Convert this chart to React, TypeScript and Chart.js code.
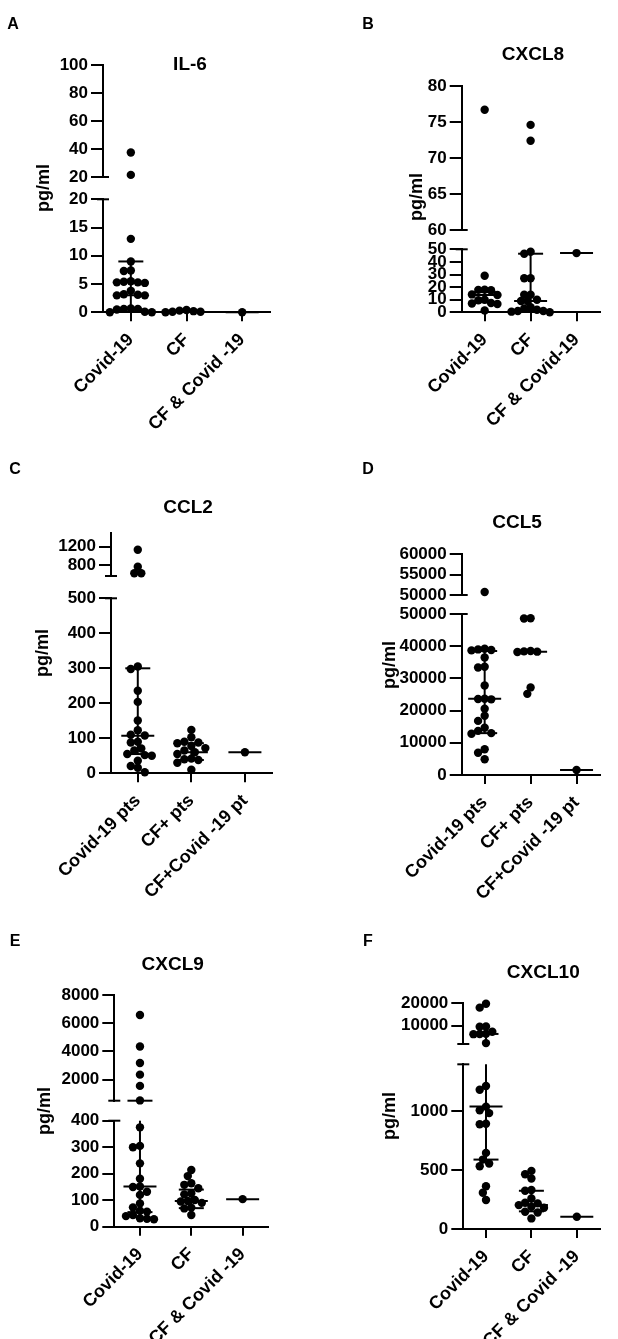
import { useEffect, useRef } from 'react';
import { Chart, registerables } from 'chart.js';

Chart.register(...registerables);

const FONT = '"Liberation Sans", Arial, Helvetica, sans-serif';
Chart.defaults.font.family = FONT;
Chart.defaults.color = '#000';

// ---- A: IL-6 ----
const il6Labels = ['Covid-19', 'CF', 'CF & Covid -19'];
const il6Covid = [37.5, 21.5, 13, 9, 7.4, 7.3, 5.5, 5.4, 5.3, 5.3, 5.2, 3.8, 3.2, 3.1, 3.0, 3.0, 0.7, 0.6, 0.6, 0.5, 0.1, 0, 0];
const il6CF = [0.4, 0.3, 0.2, 0.1, 0.1, 0];
const il6Both = [0];
const il6Median = [3, 0.2, 0];
const il6Q1 = [0.5, null, null];
const il6Q3 = [9, null, null];
const il6HighRange = [20, 100];
const il6HighTicks = [20, 40, 60, 80, 100];
const il6LowRange = [0, 20];
const il6LowTicks = [0, 5, 10, 15, 20];

// ---- B: CXCL8 ----
const cxcl8Labels = ['Covid-19', 'CF', 'CF & Covid-19'];
const cxcl8Covid = [76.7, 29, 18, 17.8, 17.5, 14.2, 13.8, 10, 9.6, 7.4, 7, 6.6, 1.5];
const cxcl8CF = [74.6, 72.4, 48, 46.5, 27, 27, 14, 14, 10, 9, 9, 4, 3, 2, 1, 1, 0.5, 0];
const cxcl8Both = [47];
const cxcl8Median = [13.8, 9, 47];
const cxcl8Q1 = [8, 1, null];
const cxcl8Q3 = [16, 46.5, null];
const cxcl8HighRange = [60, 80];
const cxcl8HighTicks = [60, 65, 70, 75, 80];
const cxcl8LowRange = [0, 50];
const cxcl8LowTicks = [0, 10, 20, 30, 40, 50];

// ---- C: CCL2 ----
const ccl2Labels = ['Covid-19 pts', 'CF+ pts', 'CF+Covid -19 pt'];
const ccl2Covid = [1130, 760, 620, 620, 305, 298, 236, 204, 151, 123, 110, 108, 90, 88, 71, 65, 55, 52, 50, 36, 21, 16, 3];
const ccl2CF = [124, 103, 90, 88, 86, 78, 72, 65, 60, 55, 42, 40, 38, 30, 10];
const ccl2Both = [60];
const ccl2Median = [107, 60, 60];
const ccl2Q1 = [55, 38, null];
const ccl2Q3 = [300, 86, null];
const ccl2HighRange = [560, 1500];
const ccl2HighTicks = [800, 1200];
const ccl2LowRange = [0, 500];
const ccl2LowTicks = [0, 100, 200, 300, 400, 500];

// ---- D: CCL5 ----
const ccl5Labels = ['Covid-19 pts', 'CF+ pts', 'CF+Covid -19 pt'];
const ccl5Covid = [50740, 39200, 39000, 38800, 38700, 36500, 33600, 33400, 27800, 23700, 23600, 23500, 20600, 18400, 16800, 14700, 13700, 13000, 12800, 8000, 6900, 4900];
const ccl5CF = [48700, 48600, 38500, 38400, 38300, 38200, 27200, 25200];
const ccl5Both = [1550];
const ccl5Median = [23700, 38300, 1550];
const ccl5Q1 = [13000, null, null];
const ccl5Q3 = [38500, null, null];
const ccl5HighRange = [50000, 60000];
const ccl5HighTicks = [50000, 55000, 60000];
const ccl5LowRange = [0, 50000];
const ccl5LowTicks = [0, 10000, 20000, 30000, 40000, 50000];

// ---- E: CXCL9 ----
const cxcl9Labels = ['Covid-19', 'CF', 'CF & Covid -19'];
const cxcl9Covid = [6580, 4350, 3170, 2350, 1550, 520, 375, 305, 300, 239, 181, 152, 150, 132, 120, 88, 73, 60, 57, 44, 40, 32, 30, 28];
const cxcl9CF = [214, 191, 164, 158, 145, 126, 122, 101, 97, 95, 90, 72, 69, 44];
const cxcl9Both = [104];
const cxcl9Median = [152, 97, 104];
const cxcl9Q1 = [55, 70, null];
const cxcl9Q3 = [500, 140, null];
const cxcl9HighRange = [500, 8000];
const cxcl9HighTicks = [2000, 4000, 6000, 8000];
const cxcl9LowRange = [0, 400];
const cxcl9LowTicks = [0, 100, 200, 300, 400];

// ---- F: CXCL10 ----
const cxcl10Labels = ['Covid-19', 'CF', 'CF & Covid -19'];
const cxcl10Covid = [19800, 18060, 9600, 9500, 7300, 6400, 6300, 6200, 2200, 1215, 1184, 1040, 1010, 985, 895, 890, 647, 590, 557, 534, 364, 308, 246];
const cxcl10CF = [494, 466, 429, 332, 325, 260, 223, 218, 203, 189, 180, 147, 140, 90];
const cxcl10Both = [104];
const cxcl10Median = [1042, 203, 104];
const cxcl10Q1 = [590, 150, null];
const cxcl10Q3 = [6300, 325, null];
const cxcl10HighRange = [1800, 20000];
const cxcl10HighTicks = [10000, 20000];
const cxcl10LowRange = [0, 1400];
const cxcl10LowTicks = [0, 500, 1000];

// layout of each panel on the page (px)
interface Geo {
  box: number[];
  axisX: number;
  axisRight: number;
  top: number;
  highBottom: number;
  lowTop: number;
  axisY: number;
  letter: number[];
  title: number[];
  yTitle: number[];
}

const GEO: Record<string, Geo> = {
  A: { box: [0, 0, 309, 460], axisX: 103, axisRight: 270, top: 65, highBottom: 177, lowTop: 199.3, axisY: 312.3, letter: [13, 25], title: [190, 65], yTitle: [44, 188] },
  B: { box: [309, 0, 309, 460], axisX: 461.7, axisRight: 613, top: 86, highBottom: 230, lowTop: 249.3, axisY: 312.3, letter: [368, 25], title: [533, 55], yTitle: [416.7, 197] },
  C: { box: [0, 430, 309, 480], axisX: 111, axisRight: 271.7, top: 532.7, highBottom: 576, lowTop: 598.3, axisY: 773.3, letter: [15, 470], title: [188, 508], yTitle: [43.3, 653] },
  D: { box: [309, 430, 309, 480], axisX: 461.7, axisRight: 608, top: 554.3, highBottom: 595, lowTop: 614, axisY: 775, letter: [368, 470], title: [517, 522.7], yTitle: [390, 665] },
  E: { box: [0, 880, 309, 459], axisX: 114.3, axisRight: 268.3, top: 995, highBottom: 1100.7, lowTop: 1120.7, axisY: 1226.7, letter: [15, 941.7], title: [172.7, 965], yTitle: [45, 1111] },
  F: { box: [309, 880, 309, 459], axisX: 463.3, axisRight: 615, top: 1003.3, highBottom: 1044, lowTop: 1064.3, axisY: 1229, letter: [368, 941.7], title: [543.3, 972.7], yTitle: [390, 1116] },
};

interface PanelSpec {
  letter: string;
  title: string;
  labels: string[];
  groups: number[][];
  median: number[];
  q1: (number | null)[];
  q3: (number | null)[];
  highRange: number[];
  highTicks: number[];
  lowRange: number[];
  lowTicks: number[];
  geo: Geo;
}

const PANELS: PanelSpec[] = [
  { letter: 'A', title: 'IL-6', labels: il6Labels, groups: [il6Covid, il6CF, il6Both], median: il6Median, q1: il6Q1, q3: il6Q3, highRange: il6HighRange, highTicks: il6HighTicks, lowRange: il6LowRange, lowTicks: il6LowTicks, geo: GEO.A },
  { letter: 'B', title: 'CXCL8', labels: cxcl8Labels, groups: [cxcl8Covid, cxcl8CF, cxcl8Both], median: cxcl8Median, q1: cxcl8Q1, q3: cxcl8Q3, highRange: cxcl8HighRange, highTicks: cxcl8HighTicks, lowRange: cxcl8LowRange, lowTicks: cxcl8LowTicks, geo: GEO.B },
  { letter: 'C', title: 'CCL2', labels: ccl2Labels, groups: [ccl2Covid, ccl2CF, ccl2Both], median: ccl2Median, q1: ccl2Q1, q3: ccl2Q3, highRange: ccl2HighRange, highTicks: ccl2HighTicks, lowRange: ccl2LowRange, lowTicks: ccl2LowTicks, geo: GEO.C },
  { letter: 'D', title: 'CCL5', labels: ccl5Labels, groups: [ccl5Covid, ccl5CF, ccl5Both], median: ccl5Median, q1: ccl5Q1, q3: ccl5Q3, highRange: ccl5HighRange, highTicks: ccl5HighTicks, lowRange: ccl5LowRange, lowTicks: ccl5LowTicks, geo: GEO.D },
  { letter: 'E', title: 'CXCL9', labels: cxcl9Labels, groups: [cxcl9Covid, cxcl9CF, cxcl9Both], median: cxcl9Median, q1: cxcl9Q1, q3: cxcl9Q3, highRange: cxcl9HighRange, highTicks: cxcl9HighTicks, lowRange: cxcl9LowRange, lowTicks: cxcl9LowTicks, geo: GEO.E },
  { letter: 'F', title: 'CXCL10', labels: cxcl10Labels, groups: [cxcl10Covid, cxcl10CF, cxcl10Both], median: cxcl10Median, q1: cxcl10Q1, q3: cxcl10Q3, highRange: cxcl10HighRange, highTicks: cxcl10HighTicks, lowRange: cxcl10LowRange, lowTicks: cxcl10LowTicks, geo: GEO.F },
];

const YW = 72; // y axis box width
const DOT_R = 4.2;
const GAP = 7; // centre distance of neighbouring dots
const MEDIAN_HALF = 16.5;
const CAP_HALF = 12.5;

// Prism-like scatter spread: x offsets (in category units) so dots do not pile up
function swarm(values: number[], pxPerUnit: number, bandPx: number): number[] {
  const order = values.map((_, i) => i).sort((a, b) => values[b] - values[a]);
  const placed: { x: number; y: number }[] = [];
  const out = values.map(() => 0);
  for (const i of order) {
    const y = values[i] * pxPerUnit;
    let best = 0;
    for (let k = 0; k < 60; k++) {
      const cand = k === 0 ? 0 : (k % 2 ? -1 : 1) * Math.ceil(k / 2) * (GAP / 2);
      if (placed.every(p => Math.hypot(p.x - cand, p.y - y) >= GAP - 0.01)) {
        best = cand;
        break;
      }
    }
    placed.push({ x: best, y });
    out[i] = best / bandPx;
  }
  return out;
}

function buildDatasets(spec: PanelSpec) {
  const g = spec.geo;
  const bandPx = (g.axisRight - g.axisX) / spec.labels.length;
  const highPx = (g.highBottom - g.top) / (spec.highRange[1] - spec.highRange[0]);
  const lowPx = (g.axisY - g.lowTop) / (spec.lowRange[1] - spec.lowRange[0]);
  const isHigh = (v: number) => v > spec.lowRange[1];

  const highDots: { x: number; y: number }[] = [];
  const lowDots: { x: number; y: number }[] = [];
  spec.groups.forEach((vals, gi) => {
    const hv = vals.filter(isHigh);
    const lv = vals.filter(v => !isHigh(v));
    swarm(hv, highPx, bandPx).forEach((o, k) => highDots.push({ x: gi + o, y: hv[k] }));
    swarm(lv, lowPx, bandPx).forEach((o, k) => lowDots.push({ x: gi + o, y: lv[k] }));
  });

  const medHigh = spec.median.map((m, gi) => ({ x: gi, y: m })).filter(p => isHigh(p.y));
  const medLow = spec.median.map((m, gi) => ({ x: gi, y: m })).filter(p => !isHigh(p.y));

  const caps: { x: number; y: number }[] = [];
  spec.q1.forEach((q, gi) => {
    if (q !== null) caps.push({ x: gi, y: q });
    const q3 = spec.q3[gi];
    if (q3 !== null) caps.push({ x: gi, y: q3 });
  });

  const dot = (data: { x: number; y: number }[], axis: string) => ({
    data, yAxisID: axis, pointRadius: DOT_R, pointHoverRadius: DOT_R,
    backgroundColor: '#000', pointBackgroundColor: '#000', borderWidth: 0, pointBorderWidth: 0, clip: false,
  });
  const mark = (data: { x: number; y: number }[], axis: string, half: number) => ({
    data, yAxisID: axis, pointStyle: 'line', pointRadius: half, pointHoverRadius: half,
    borderColor: '#000', pointBorderColor: '#000', borderWidth: 2, pointBorderWidth: 2, clip: false,
  });

  const datasets: any[] = [
    dot(highDots, 'yHigh'),
    dot(lowDots, 'yLow'),
    mark(medHigh, 'yHigh', MEDIAN_HALF),
    mark(medLow, 'yLow', MEDIAN_HALF),
    mark(caps.filter(p => isHigh(p.y)), 'yHigh', CAP_HALF),
    mark(caps.filter(p => !isHigh(p.y)), 'yLow', CAP_HALF),
  ];

  // interquartile whiskers, cut at the axis break
  spec.q1.forEach((q1, gi) => {
    const q3 = spec.q3[gi];
    if (q1 === null || q3 === null) return;
    const segs: [string, number[]][] = [['yLow', spec.lowRange], ['yHigh', spec.highRange]];
    for (const [axis, r] of segs) {
      const lo = Math.max(q1, r[0]);
      const hi = Math.min(q3, r[1]);
      if (lo < hi) {
        datasets.push({
          data: [{ x: gi, y: lo }, { x: gi, y: hi }], yAxisID: axis, showLine: true,
          pointRadius: 0, pointHoverRadius: 0, borderColor: '#000', borderWidth: 2, clip: false,
        });
      }
    }
  });
  return datasets;
}

function yScale(range: number[], tickValues: number[], weight: number, stackWeight: number) {
  return {
    type: 'linear', position: 'left', stack: 'panel', stackWeight, weight,
    min: range[0], max: range[1],
    afterBuildTicks: (s: any) => { s.ticks = tickValues.map(v => ({ value: v })); },
    afterFit: (s: any) => { s.width = YW; },
    ticks: { autoSkip: false, padding: 3, color: '#000', font: { size: 17, weight: 'bold' }, callback: (v: any) => String(v) },
    grid: { drawOnChartArea: false, color: '#000', lineWidth: 2, tickLength: 12 },
    border: { display: true, color: '#000', width: 2 },
  };
}

function Panel({ spec }: { spec: PanelSpec }) {
  const canvasRef = useRef<HTMLCanvasElement | null>(null);
  const g = spec.geo;
  const [bx, by, bw, bh] = g.box;

  useEffect(() => {
    if (!canvasRef.current) return;
    const ctx = canvasRef.current.getContext('2d');
    if (!ctx) return;

    const xh = by + bh - g.axisY; // x axis box runs to the canvas bottom

    const decor = {
      id: 'decor',
      afterDraw(chart: any) {
        const c = chart.ctx;
        const hi = chart.scales.yHigh;
        const lo = chart.scales.yLow;
        const ax = chart.chartArea.left;
        c.save();
        c.strokeStyle = '#000';
        c.fillStyle = '#000';
        c.lineWidth = 2;
        for (const y of [hi.bottom, lo.top]) {
          c.beginPath();
          c.moveTo(ax - 6, y);
          c.lineTo(ax + 6, y);
          c.stroke();
        }
        c.textAlign = 'center';
        c.textBaseline = 'middle';
        c.font = `bold 16px ${FONT}`;
        c.fillText(spec.letter, g.letter[0] - bx, g.letter[1] - by);
        c.font = `bold 19px ${FONT}`;
        c.fillText(spec.title, g.title[0] - bx, g.title[1] - by);
        c.translate(g.yTitle[0] - bx, g.yTitle[1] - by);
        c.rotate(-Math.PI / 2);
        c.font = `bold 18px ${FONT}`;
        c.fillText('pg/ml', 0, 0);
        c.restore();
      },
    };

    const labels = spec.labels;
    const chart = new Chart(ctx, {
      type: 'scatter',
      data: { datasets: buildDatasets(spec) },
      options: {
        animation: false,
        responsive: false,
        events: [],
        layout: {
          padding: {
            left: g.axisX - bx - YW,
            top: g.top - by,
            right: bx + bw - g.axisRight,
            bottom: 0,
          },
        },
        plugins: { legend: { display: false }, tooltip: { enabled: false } },
        scales: {
          x: {
            type: 'linear', position: 'bottom', min: -0.5, max: labels.length - 0.5,
            afterBuildTicks: (s: any) => { s.ticks = labels.map((_, i) => ({ value: i })); },
            afterFit: (s: any) => { s.height = xh; },
            ticks: {
              autoSkip: false, minRotation: 45, maxRotation: 45, padding: 8, color: '#000',
              font: { size: 18, weight: 'bold' },
              callback: (v: any) => labels[v] ?? '',
            },
            grid: { drawOnChartArea: false, color: '#000', lineWidth: 2, tickLength: 9 },
            border: { display: true, color: '#000', width: 2 },
          },
          yHigh: yScale(spec.highRange, spec.highTicks, 3, g.highBottom - g.top),
          yGap: {
            type: 'linear', position: 'left', stack: 'panel', stackWeight: g.lowTop - g.highBottom, weight: 2,
            afterFit: (s: any) => { s.width = YW; },
            ticks: { display: false },
            grid: { display: false },
            border: { display: false },
          },
          yLow: yScale(spec.lowRange, spec.lowTicks, 1, g.axisY - g.lowTop),
        } as any,
      },
      plugins: [decor],
    } as any);

    return () => {
      chart.destroy();
    };
  }, [spec]);

  return (
    <canvas
      ref={canvasRef}
      width={bw}
      height={bh}
      style={{ position: 'absolute', left: bx, top: by, width: bw, height: bh }}
    />
  );
}

export default function App() {
  return (
    <div style={{ position: 'absolute', left: 0, top: 0, width: 618, height: 1339, background: '#fff' }}>
      {PANELS.map(p => (
        <Panel key={p.letter} spec={p} />
      ))}
    </div>
  );
}
